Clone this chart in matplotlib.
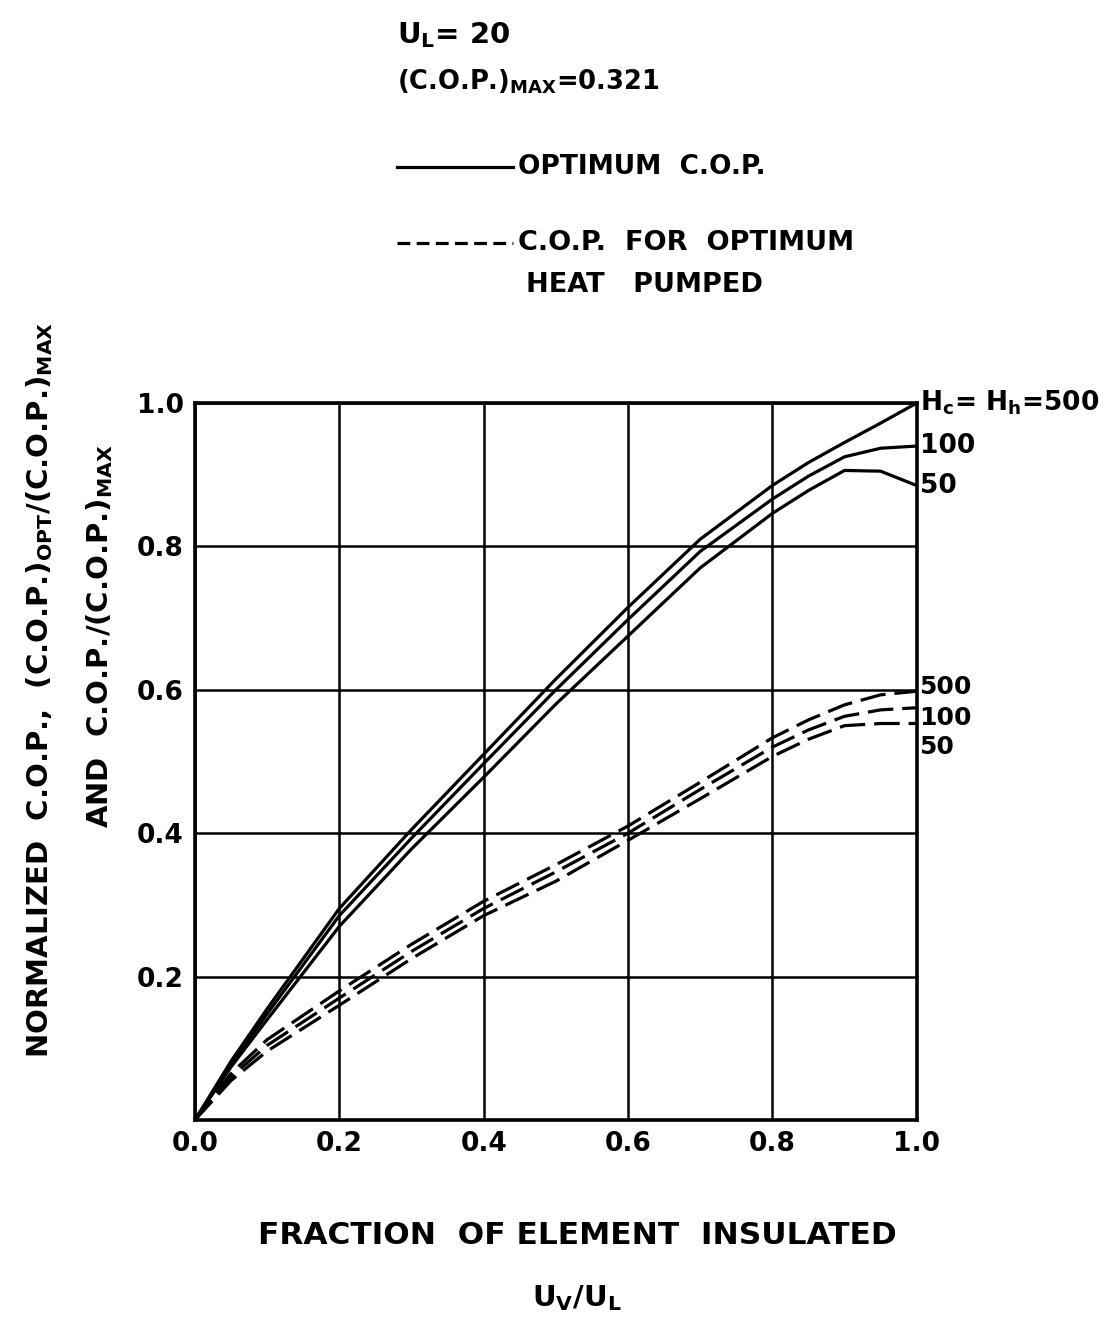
import matplotlib.pyplot as plt
from matplotlib.lines import Line2D

plt.rcParams["font.family"] = ["DejaVu Sans"]
plt.rcParams["font.weight"] = "bold"
plt.rcParams["mathtext.fontset"] = "dejavusans"
plt.rcParams["mathtext.default"] = "bf"

# fraction of element insulated, u_v / u_L
x = [0.0, 0.05, 0.1, 0.2, 0.3, 0.4, 0.5, 0.6, 0.7, 0.8, 0.85, 0.9, 0.95, 1.0]

# optimum C.O.P. (solid), H_c = H_h = 500, 100, 50
opt_500 = [0.0, 0.082, 0.155, 0.295, 0.405, 0.51, 0.615, 0.715, 0.81, 0.885, 0.917, 0.945, 0.972, 1.0]
opt_100 = [0.0, 0.078, 0.148, 0.285, 0.393, 0.497, 0.60, 0.698, 0.793, 0.866, 0.898, 0.925, 0.937, 0.94]
opt_50 = [0.0, 0.074, 0.14, 0.27, 0.378, 0.478, 0.58, 0.675, 0.77, 0.846, 0.878, 0.906, 0.905, 0.885]

# C.O.P. for optimum heat pumped (dashed)
hp_500 = [0.0, 0.065, 0.112, 0.18, 0.245, 0.305, 0.356, 0.41, 0.471, 0.533, 0.558, 0.579, 0.593, 0.598]
hp_100 = [0.0, 0.06, 0.104, 0.17, 0.235, 0.295, 0.346, 0.40, 0.461, 0.52, 0.544, 0.563, 0.572, 0.575]
hp_50 = [0.0, 0.055, 0.096, 0.16, 0.225, 0.285, 0.333, 0.39, 0.448, 0.507, 0.531, 0.55, 0.553, 0.553]

solid_labels = [r"H$_c$= H$_h$=500", "100", "50"]
dashed_labels = ["500", "100", "50"]

ticks = [0.0, 0.2, 0.4, 0.6, 0.8, 1.0]

fig = plt.figure(figsize=(11.18, 13.32), dpi=100)
ax = fig.add_axes([0.1744, 0.1592, 0.6455, 0.5382])

lw = 2.3
for ys in [opt_500, opt_100, opt_50]:
    ax.plot(x, ys, color="black", lw=lw, solid_joinstyle="round")
for ys in [hp_500, hp_100, hp_50]:
    ax.plot(x, ys, color="black", lw=lw, dashes=(8, 2.8))

ax.set_xlim(0, 1)
ax.set_ylim(0, 1)
ax.set_xticks(ticks)
ax.set_yticks(ticks)
ax.set_xticklabels(["0.0", "0.2", "0.4", "0.6", "0.8", "1.0"], fontsize=19, fontweight="bold")
ax.set_yticklabels(["", "0.2", "0.4", "0.6", "0.8", "1.0"], fontsize=19, fontweight="bold")
ax.tick_params(length=0, pad=8)
ax.grid(True, color="black", lw=1.8)
for s in ax.spines.values():
    s.set_linewidth(2.6)

# curve end labels
for ys, lab in zip([opt_500, opt_100, opt_50], solid_labels):
    ax.text(1.005, ys[-1], lab, fontsize=19, fontweight="bold", va="center", ha="left",
            clip_on=False)
for ys, lab, dy in zip([hp_500, hp_100, hp_50], dashed_labels, [0.006, -0.014, -0.033]):
    ax.text(1.003, ys[-1] + dy, lab, fontsize=18, fontweight="bold", va="center", ha="left",
            clip_on=False)

# header text and legend
fig.text(397 / 1118, 1 - 35 / 1332, r"U$_L$= 20", fontsize=21, fontweight="bold",
         va="center", ha="left")
fig.text(397 / 1118, 1 - 82 / 1332, r"(C.O.P.)$_{MAX}$=0.321", fontsize=18.5, fontweight="bold",
         va="center", ha="left")
fig.add_artist(Line2D([397 / 1118, 513 / 1118], [1 - 167 / 1332] * 2, color="black", lw=2.3))
fig.text(518 / 1118, 1 - 167 / 1332, "OPTIMUM  C.O.P.", fontsize=19, fontweight="bold",
         va="center", ha="left")
fig.add_artist(Line2D([397 / 1118, 513 / 1118], [1 - 243 / 1332] * 2, color="black", lw=2.3,
                      dashes=(4, 2)))
fig.text(518 / 1118, 1 - 243 / 1332, "C.O.P.  FOR  OPTIMUM", fontsize=19.5, fontweight="bold",
         va="center", ha="left")
fig.text(526 / 1118, 1 - 285 / 1332, "HEAT   PUMPED", fontsize=19.5, fontweight="bold",
         va="center", ha="left")

# axis titles
fig.text(40 / 1118, 1 - 690 / 1332,
         r"NORMALIZED  C.O.P.,  (C.O.P.)$_{OPT}$/(C.O.P.)$_{MAX}$",
         fontsize=21, fontweight="bold", rotation=90, va="center", ha="center")
fig.text(100 / 1118, 1 - 636 / 1332, r"AND  C.O.P./(C.O.P.)$_{MAX}$",
         fontsize=21, fontweight="bold", rotation=90, va="center", ha="center")
fig.text(577 / 1118, 1 - 1235 / 1332, "FRACTION  OF ELEMENT  INSULATED",
         fontsize=22.5, fontweight="bold", va="center", ha="center")
fig.text(577 / 1118, 1 - 1298 / 1332, r"U$_V$/U$_L$",
         fontsize=21, fontweight="bold", va="center", ha="center")

fig.savefig("out.png", dpi=100, facecolor="white")
